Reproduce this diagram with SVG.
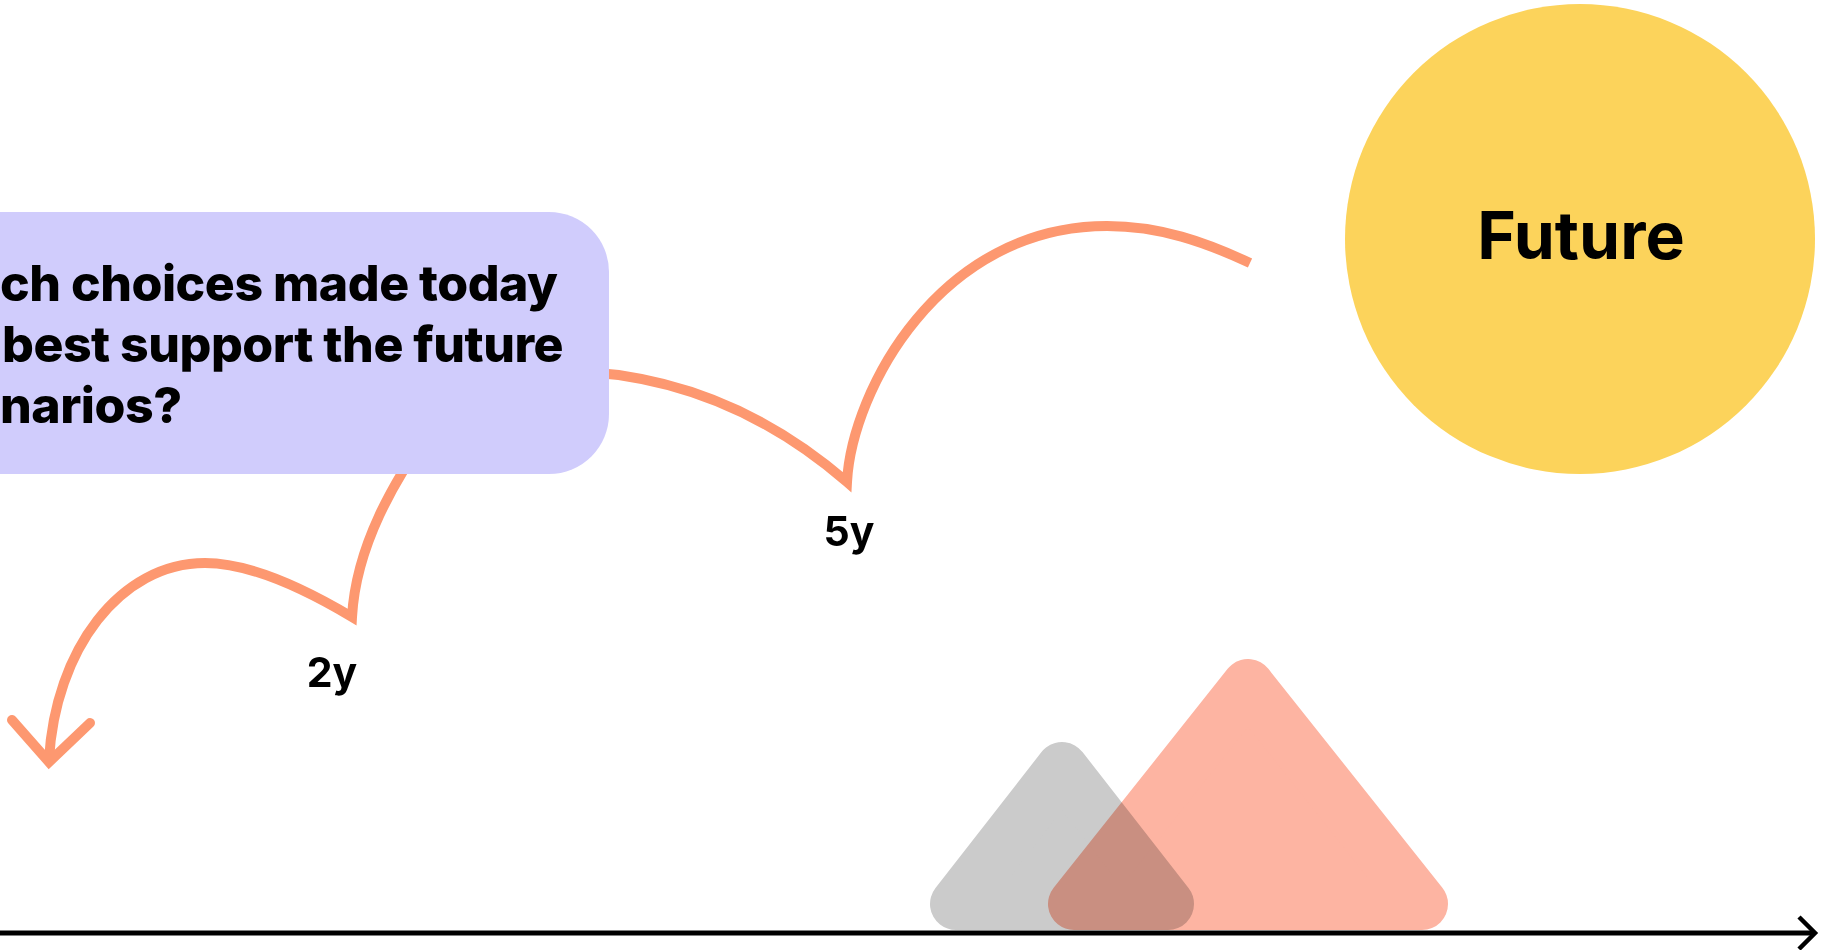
<svg xmlns="http://www.w3.org/2000/svg" width="1829" height="950" viewBox="0 0 1829 950">
<style>
.lbl{font-family:Inter,"Liberation Sans",sans-serif;font-weight:700;fill:#000}
.q{font-weight:800;letter-spacing:-0.5px}
.conn{fill:none;stroke:#fd9870;stroke-width:10;stroke-linejoin:miter;stroke-miterlimit:6}
</style>
<rect width="1829" height="950" fill="#fff"/>
<g id="mountains">
  <polygon id="mountain-gray" points="1062,768 956,904 1168,904" fill="#cbcbcb" stroke="#cbcbcb" stroke-width="52" stroke-linejoin="round"/>
  <polygon id="mountain-salmon" points="1248,685 1074,904 1422,904" fill="#fdb4a2" stroke="#fdb4a2" stroke-width="52" stroke-linejoin="round" style="mix-blend-mode:multiply"/>
</g>
<g id="connectors">
  <path class="conn" d="M560,371 Q720,372 847,482 C852,390 940,226 1107,226 C1160,226 1205,242 1250,263"/>
  <path class="conn" d="M430,430 C395,480 356,545 352,617 C290,580 240,563 205,563 C120,563 55,650 49,760"/>
  <path d="M12,720 L49,762 L90,723" fill="none" stroke="#fd9870" stroke-width="10" stroke-linecap="round" stroke-linejoin="miter"/>
</g>
<g id="question">
  <rect x="-80" y="212" width="689" height="262" rx="60" fill="#d0ccfc"/>
  <text class="lbl q" font-size="50" x="0" y="301">ch choices made today</text>
  <text class="lbl q" font-size="50" x="2" y="362">best support the future</text>
  <text class="lbl q" font-size="50" x="0" y="423">narios?</text>
</g>
<g id="future">
  <circle cx="1580" cy="239" r="235" fill="#fcd35b"/>
  <text class="lbl" font-size="66" x="1581" y="259" text-anchor="middle">Future</text>
</g>
<g id="label-5y"><text class="lbl" font-size="41" x="849" y="546" text-anchor="middle">5y</text></g>
<g id="label-2y"><text class="lbl" font-size="41" x="332" y="687" text-anchor="middle">2y</text></g>
<g id="axis">
  <line x1="0" y1="933" x2="1814" y2="933" stroke="#000" stroke-width="5"/>
  <path d="M1799,917 L1815,933 L1799,949" fill="none" stroke="#000" stroke-width="4.5"/>
</g>
</svg>
